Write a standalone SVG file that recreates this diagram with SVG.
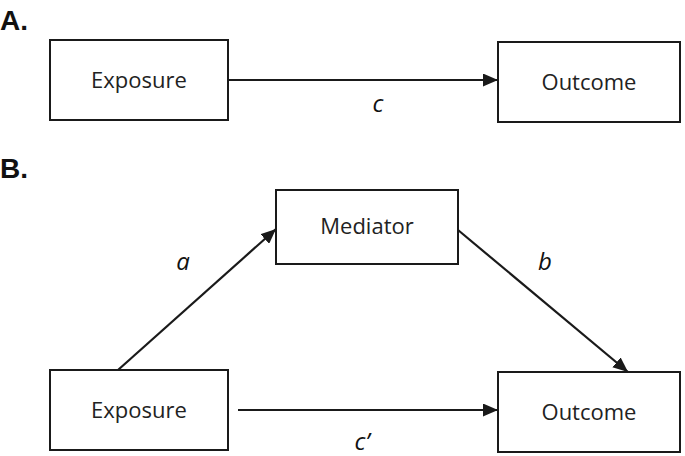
<svg xmlns="http://www.w3.org/2000/svg" width="685" height="456" viewBox="0 0 685 456">
<style>
.box{fill:#fff;stroke:#1a1a1a;stroke-width:2}
.t{font-family:"Open Sans","Liberation Sans",sans-serif;font-size:22px;fill:#222;text-anchor:middle}
.h{font-family:"Liberation Sans",sans-serif;font-size:28px;font-weight:bold;fill:#111}
.i{font-family:"Open Sans","Liberation Sans",sans-serif;font-size:24px;font-style:italic;fill:#111;text-anchor:middle}
.c{stroke:#1a1a1a;stroke-width:2.2;fill:none;marker-end:url(#ah)}
</style>
<defs><marker id="ah" viewBox="0 0 10 10" refX="10" refY="5" markerWidth="15" markerHeight="13" orient="auto" markerUnits="userSpaceOnUse" preserveAspectRatio="none"><path d="M0,0L10,5L0,10z" fill="#1a1a1a"/></marker></defs>
<rect width="685" height="456" fill="#fff"/>
<text class="h" x="0" y="30">A.</text>
<text class="h" x="0" y="178">B.</text>
<g id="connectors">
<line class="c" x1="228" y1="80" x2="498" y2="80"/>
<line class="c" x1="118" y1="370" x2="276" y2="229"/>
<line class="c" x1="458" y1="230" x2="628" y2="372"/>
<line class="c" x1="238" y1="410" x2="498" y2="410"/>
</g>
<text class="i" x="378" y="112">c</text>
<text class="i" x="183" y="270">a</text>
<text class="i" x="545" y="270">b</text>
<text class="i" x="362" y="450">c’</text>
<g id="expA"><rect class="box" x="50" y="40" width="178" height="80"/><text class="t" x="139" y="88">Exposure</text></g>
<g id="outA"><rect class="box" x="498" y="42" width="182" height="80"/><text class="t" x="589" y="90">Outcome</text></g>
<g id="med"><rect class="box" x="276" y="190" width="182" height="74"/><text class="t" x="367" y="234">Mediator</text></g>
<g id="expB"><rect class="box" x="50" y="370" width="178" height="80"/><text class="t" x="139" y="418">Exposure</text></g>
<g id="outB"><rect class="box" x="498" y="372" width="182" height="80"/><text class="t" x="589" y="420">Outcome</text></g>
</svg>
